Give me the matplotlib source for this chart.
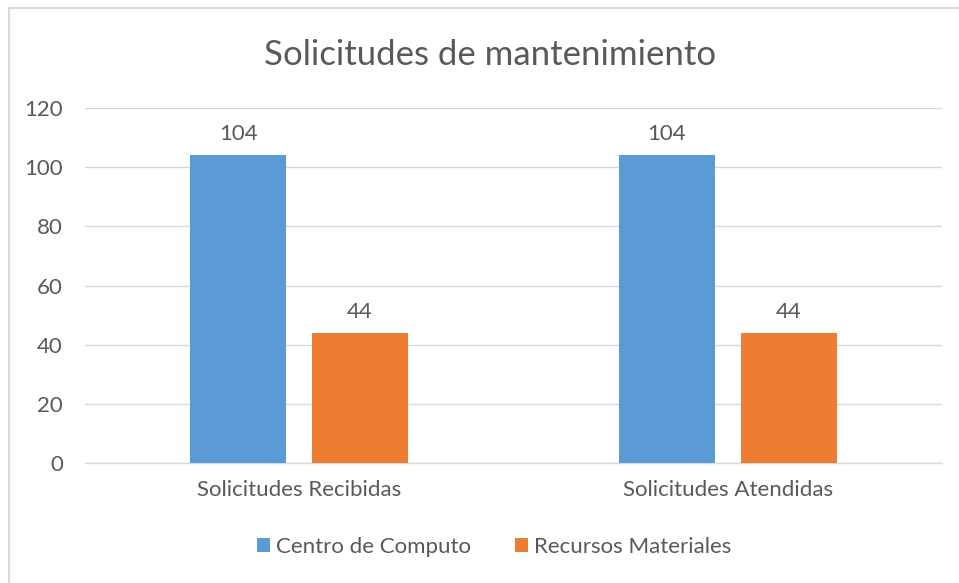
import matplotlib
matplotlib.use("Agg")
import matplotlib.pyplot as plt
from matplotlib.patches import Rectangle, Patch
import numpy as np

categories = ["Solicitudes Recibidas", "Solicitudes Atendidas"]
series_names = ["Centro de Computo", "Recursos Materiales"]
centro = [104, 104]
recursos = [44, 44]
yticks = [0, 20, 40, 60, 80, 100, 120]
colors = ["#5B9BD5", "#ED7D31"]
title = "Solicitudes de mantenimiento"

plt.rcParams['font.family'] = ['Lato', 'DejaVu Sans']
txt = "#595959"

W, H = 959, 583
fig = plt.figure(figsize=(W / 100, H / 100), dpi=100)
fig.patch.set_facecolor("white")

# outer chart border (left & top visible)
fig.add_artist(Rectangle((9 / W, -0.1), 1.2, (H - 8) / H + 0.1,
                         transform=fig.transFigure, fill=False,
                         edgecolor="#d9d9d9", linewidth=1.5))

left, right = 85 / W, 942 / W
bottom, top = 1 - 463 / H, 1 - 108 / H
ax = fig.add_axes([left, bottom, right - left, top - bottom])

x = np.arange(len(categories))
bw = 0.224
off = 0.142
b1 = ax.bar(x - off, centro, bw, color=colors[0], label=series_names[0], zorder=3)
b2 = ax.bar(x + off, recursos, bw, color=colors[1], label=series_names[1], zorder=3)

for bars, vals in ((b1, centro), (b2, recursos)):
    for r, v in zip(bars, vals):
        ax.annotate(str(v), (r.get_x() + r.get_width() / 2, v),
                    xytext=(0, 8), textcoords="offset points",
                    ha="center", va="bottom", fontsize=16, color=txt)

ax.set_xlim(-0.5, 1.5)
ax.set_ylim(0, 120)
ax.set_yticks(yticks)
ax.set_yticklabels([str(t) for t in yticks], fontsize=16, color=txt)
ax.set_xticks(x)
ax.set_xticklabels(categories, fontsize=16, color=txt)
ax.tick_params(axis="y", length=0, pad=16)
ax.tick_params(axis="x", length=0, pad=12)
ax.grid(axis="y", color="#d9d9d9", linewidth=1, zorder=0)
for s in ["top", "right", "left"]:
    ax.spines[s].set_visible(False)
ax.spines["bottom"].set_color("#d9d9d9")
ax.spines["bottom"].set_linewidth(1)

fig.text(490 / W, 1 - 55 / H, title, ha="center", va="center",
         fontsize=25, color=txt)

handles = [Patch(facecolor=c, label=n) for c, n in zip(colors, series_names)]
fig.legend(handles=handles, loc="center", bbox_to_anchor=(494 / W, 1 - 547 / H),
           ncol=2, frameon=False, fontsize=16, labelcolor=txt,
           handlelength=0.6, handleheight=0.6, handletextpad=0.25,
           columnspacing=2.0)

fig.savefig("out.png", dpi=100, facecolor="white")
